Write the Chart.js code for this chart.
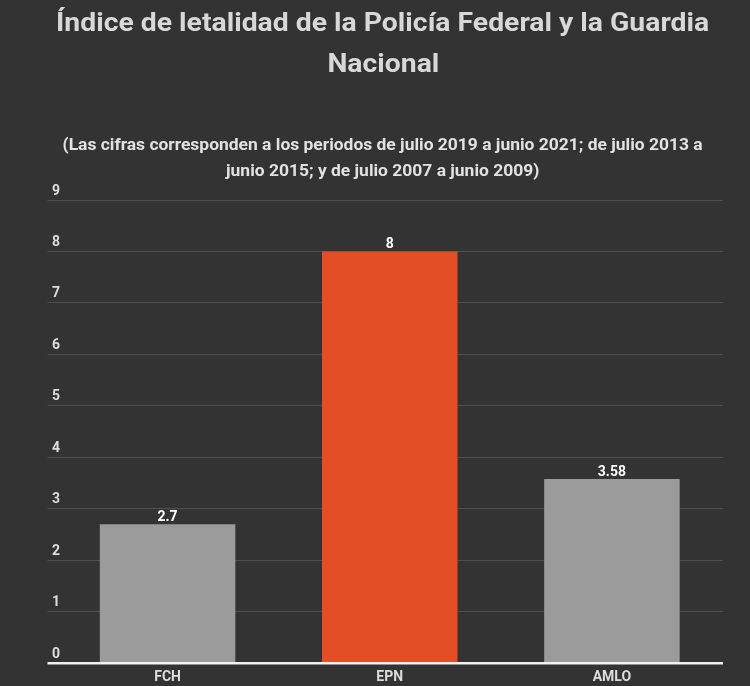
<!DOCTYPE html>
<html>
<head>
<meta charset="utf-8">
<script src="https://cdn.jsdelivr.net/npm/chart.js@4/dist/chart.umd.min.js"></script>
<style>
    html, body { margin: 0; padding: 0; background: #333333; }
    #wrap { position: relative; width: 750px; height: 686px; overflow: hidden; }
    #chart { position: absolute; left: 0; top: 0; }
    .head { position: absolute; left: 8px; width: 750px; text-align: center; font-family: Roboto, sans-serif; font-weight: bold; }
    .head span { display: inline-block; white-space: nowrap; transform-origin: center; transform: scaleX(1.09); }
    #title { top: 2px; font-size: 26px; line-height: 41px; color: #d8d8d8; }
    #subtitle { top: 132px; font-size: 16px; line-height: 26px; color: #e2e2e2; }
</style>
</head>
<body>
<div id="wrap">
    <canvas id="chart" width="750" height="686"></canvas>
    <div class="head" id="title"><span>Índice de letalidad de la Policía Federal y la Guardia</span><br><span>Nacional</span></div>
    <div class="head" id="subtitle"><span>(Las cifras corresponden a los periodos de julio 2019 a junio 2021; de julio 2013 a</span><br><span>junio 2015; y de julio 2007 a junio 2009)</span></div>
</div>
<script>
// Datos
const categories = ['FCH', 'EPN', 'AMLO'];
const values = [2.7, 8, 3.58];
const barColors = ['#9b9b9b', '#e44e24', '#9b9b9b'];
const yTicks = [0, 1, 2, 3, 4, 5, 6, 7, 8, 9];

const valueLabels = {
    id: 'valueLabels',
    afterDatasetsDraw(chart) {
        const ctx = chart.ctx;
        const meta = chart.getDatasetMeta(0);
        ctx.save();
        ctx.fillStyle = '#ffffff';
        ctx.font = 'bold 14px Roboto';
        ctx.textAlign = 'center';
        ctx.textBaseline = 'alphabetic';
        meta.data.forEach((bar, i) => {
            ctx.fillText(String(values[i]), bar.x, bar.y - 3);
        });
        ctx.restore();
    }
};

new Chart(document.getElementById('chart').getContext('2d'), {
    type: 'bar',
    data: {
        labels: categories,
        datasets: [{
            data: values,
            backgroundColor: barColors,
            borderWidth: 0,
            categoryPercentage: 1,
            barPercentage: 0.61
        }]
    },
    options: {
        responsive: false,
        animation: false,
        layout: { padding: { top: 200, left: 56.5, right: 27, bottom: -6 } },
        plugins: {
            legend: { display: false },
            tooltip: { enabled: false }
        },
        scales: {
            x: {
                grid: { display: false, drawTicks: false },
                border: { display: false },
                ticks: { color: '#dddddd', font: { family: 'Roboto', weight: 'bold', size: 14 }, padding: 6 }
            },
            y: {
                min: 0,
                max: 9,
                afterBuildTicks: axis => { axis.ticks = yTicks.map(v => ({ value: v })); },
                border: { display: false },
                grid: {
                    color: c => c.tick && c.tick.value === 0 ? '#f2f2f2' : '#4f4f4f',
                    lineWidth: c => c.tick && c.tick.value === 0 ? 2.5 : 1,
                    tickLength: 9
                },
                ticks: {
                    mirror: true,
                    padding: -4.5,
                    labelOffset: -9,
                    color: '#dddddd',
                    font: { family: 'Roboto', weight: 'bold', size: 14 }
                }
            }
        }
    },
    plugins: [valueLabels]
});
</script>
</body>
</html>
